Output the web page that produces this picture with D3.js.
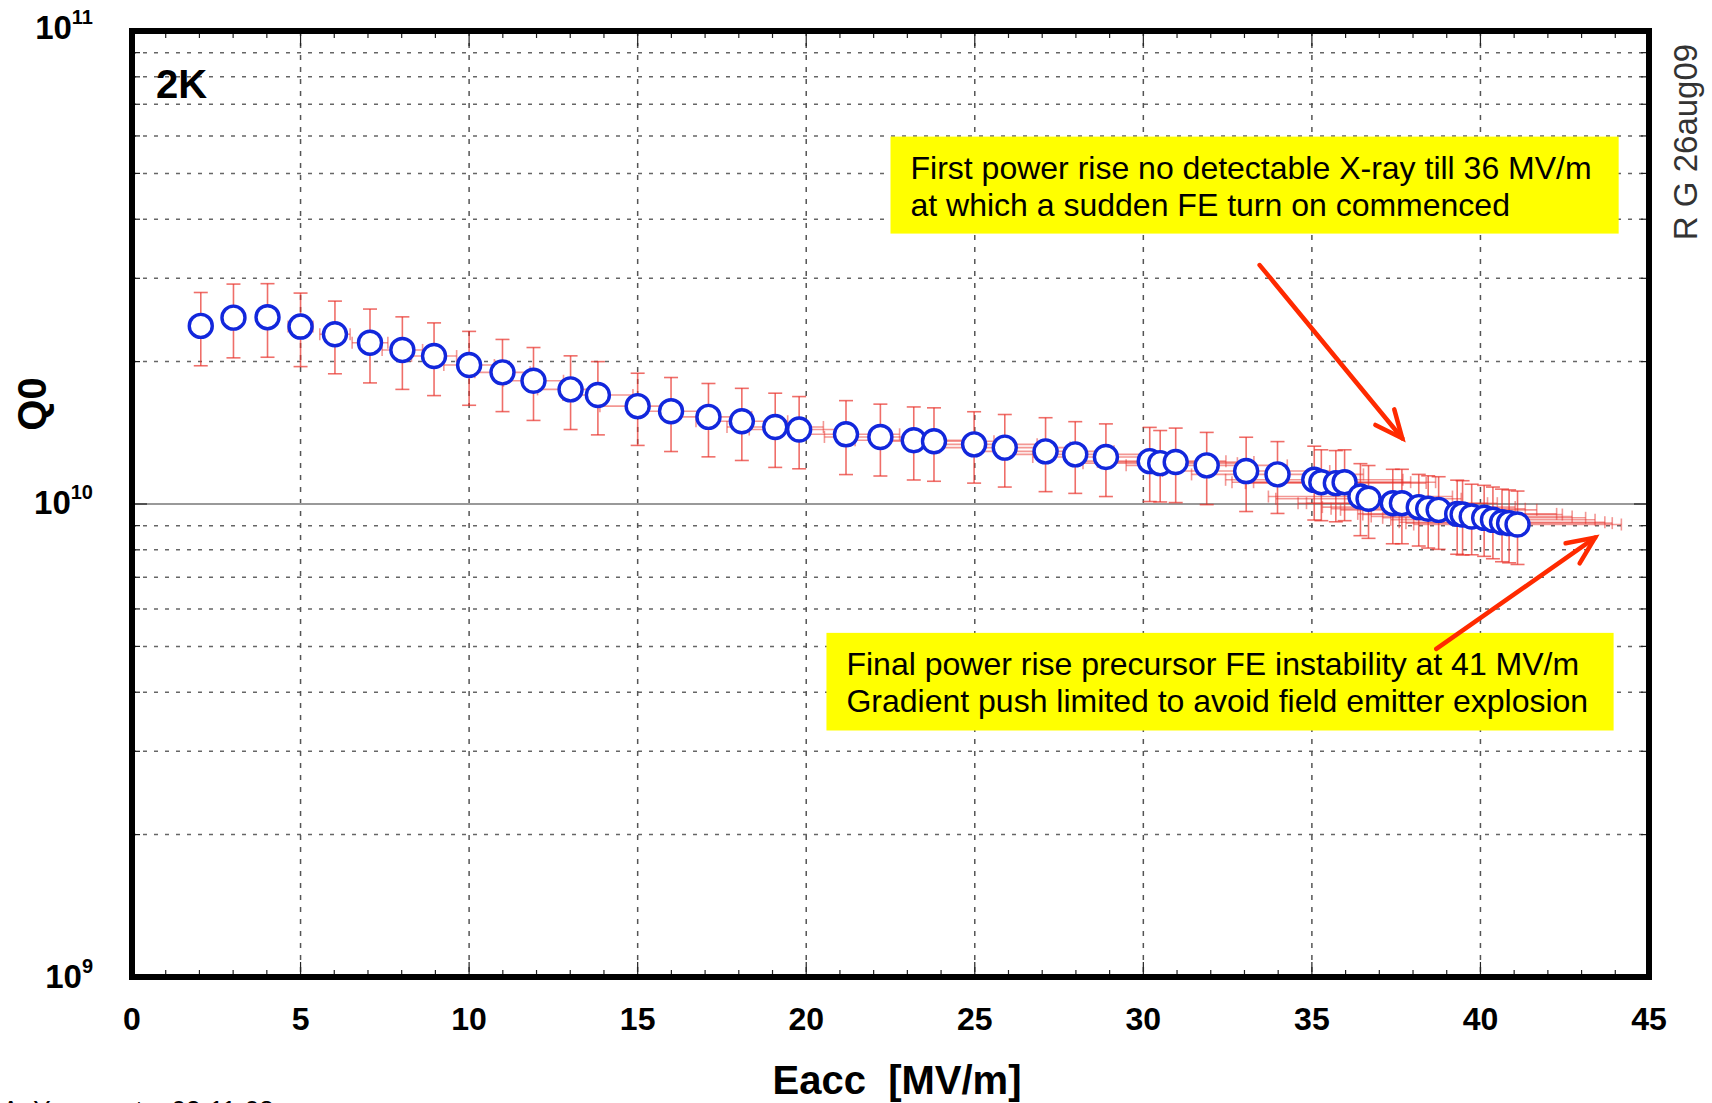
<!DOCTYPE html>
<html>
<head>
<meta charset="utf-8">
<script src="https://cdn.jsdelivr.net/npm/d3@7"></script>
<style>
  body { margin: 0; background: #fff; }
  svg { display: block; font-family: "Liberation Sans", Arial, sans-serif; }
</style>
</head>
<body>
<svg id="chart" width="1712" height="1103"></svg>
<script>
// Eacc [MV/m] and Q0 (x 1e10), with error bars
const eacc = [2.04, 3.01, 4.02, 5.00, 6.02, 7.06, 8.02, 8.96, 10.0, 10.99, 11.91, 13.01, 13.82,
  15.0, 15.99, 17.1, 18.09, 19.08, 19.79, 21.18, 22.2, 23.19, 23.79, 24.98, 25.89, 27.1, 27.98,
  28.89, 30.19, 30.5, 30.96, 31.88, 33.05, 33.98, 35.07, 35.28, 35.71, 35.97, 36.44, 36.68,
  37.4, 37.67, 38.17, 38.45, 38.76, 39.31, 39.47, 39.74, 40.11, 40.37, 40.64, 40.85, 41.1];
const q0 = [2.38, 2.477, 2.483, 2.372, 2.285, 2.193, 2.117, 2.055, 1.967, 1.898, 1.822, 1.747, 1.70,
  1.61, 1.571, 1.528, 1.496, 1.455, 1.437, 1.404, 1.386, 1.364, 1.357, 1.337, 1.316, 1.292, 1.273,
  1.257, 1.232, 1.22, 1.227, 1.207, 1.174, 1.155, 1.125, 1.112, 1.107, 1.112, 1.037, 1.026,
  1.004, 1.004, 0.985, 0.977, 0.972, 0.953, 0.95, 0.941, 0.935, 0.926, 0.915, 0.911, 0.905];
const q0Err = [0.42, 0.44, 0.44, 0.42, 0.40, 0.39, 0.37, 0.36, 0.35, 0.33, 0.32, 0.31, 0.30,
  0.28, 0.28, 0.27, 0.26, 0.26, 0.25, 0.25, 0.24, 0.24, 0.24, 0.23, 0.23, 0.23, 0.22,
  0.22, 0.22, 0.21, 0.22, 0.21, 0.21, 0.20, 0.20, 0.19, 0.19, 0.19, 0.18, 0.18,
  0.18, 0.18, 0.17, 0.17, 0.17, 0.17, 0.17, 0.16, 0.16, 0.16, 0.16, 0.16, 0.16];
const eaccErr = [0.15, 0.23, 0.30, 0.37, 0.45, 0.53, 0.60, 0.67, 0.75, 0.82, 0.89, 0.98, 1.04,
  1.12, 1.20, 1.28, 1.36, 1.43, 1.48, 1.59, 1.66, 1.74, 1.78, 1.87, 1.94, 2.03, 2.10,
  2.17, 2.26, 2.29, 2.32, 2.39, 2.48, 2.55, 2.63, 2.65, 2.68, 2.70, 2.73, 2.75,
  2.81, 2.83, 2.86, 2.88, 2.91, 2.95, 2.96, 2.98, 3.01, 3.03, 3.05, 3.06, 3.08];

const xTicks = [0, 5, 10, 15, 20, 25, 30, 35, 40, 45];
const yDecades = [1e9, 1e10, 1e11];
const yDecadeExp = ['9', '10', '11'];

const note1 = ['First power rise no detectable X-ray till 36 MV/m', 'at which a sudden FE turn on commenced'];
const note2 = ['Final power rise precursor FE instability at 41 MV/m', 'Gradient push limited to avoid field emitter explosion'];
// annotation anchors in data units: [eacc, Q0]
const note1Box = [[22.5, 5.98e10], [44.1, 3.73e10]];
const note2Box = [[20.6, 5.34e9], [43.95, 3.32e9]];
const arrow1 = [[33.45, 3.2e10], [37.68, 1.377e10]];
const arrow2 = [[38.69, 4.94e9], [43.4, 8.49e9]];

const svg = d3.select('#chart');
const L = 132, R = 1649, T = 31, B = 977;

const x = d3.scaleLinear().domain([0, 45]).range([L, R]);
const y = d3.scaleLog().domain([1e9, 1e11]).range([B, T]);

const minors = [];
[1e9, 1e10].forEach(d => { for (let k = 2; k <= 9; k++) minors.push(d * k); });

// grid
const grid = svg.append('g');
grid.selectAll('line.hg').data(minors).join('line')
  .attr('x1', L).attr('x2', R).attr('y1', d => y(d)).attr('y2', d => y(d))
  .attr('stroke', '#666').attr('stroke-width', 1.5).attr('stroke-dasharray', '4,7');
grid.selectAll('line.vg').data(xTicks.slice(1, -1)).join('line')
  .attr('x1', d => x(d)).attr('x2', d => x(d)).attr('y1', T).attr('y2', B)
  .attr('stroke', '#555').attr('stroke-width', 1.5).attr('stroke-dasharray', '5,7');
grid.append('line').attr('x1', L).attr('x2', R).attr('y1', y(1e10)).attr('y2', y(1e10))
  .attr('stroke', '#999').attr('stroke-width', 2);

// error bars
const pts = eacc.map((e, i) => ({ e, q: q0[i] * 1e10, dq: q0Err[i] * 1e10, de: eaccErr[i] }));
const eb = svg.append('g').attr('stroke', '#e8302a').attr('stroke-width', 1.6).attr('fill', 'none');
pts.forEach(p => {
  const g = eb.append('g').attr('stroke-opacity', 0.5);
  g.append('line').attr('x1', x(p.e - p.de)).attr('x2', x(p.e + p.de)).attr('y1', y(p.q)).attr('y2', y(p.q));
  [p.e - p.de, p.e + p.de].forEach(v => g.append('line')
    .attr('x1', x(v)).attr('x2', x(v)).attr('y1', y(p.q) - 6).attr('y2', y(p.q) + 6));
  const v = eb.append('g').attr('stroke-opacity', 0.7);
  v.append('line').attr('x1', x(p.e)).attr('x2', x(p.e)).attr('y1', y(p.q - p.dq)).attr('y2', y(p.q + p.dq));
  [p.q - p.dq, p.q + p.dq].forEach(w => v.append('line')
    .attr('x1', x(p.e) - 7).attr('x2', x(p.e) + 7).attr('y1', y(w)).attr('y2', y(w)));
});

// points
svg.append('g').selectAll('circle').data(pts).join('circle')
  .attr('cx', d => x(d.e)).attr('cy', d => y(d.q)).attr('r', 11.5)
  .attr('fill', '#fff').attr('stroke', '#1227dc').attr('stroke-width', 3.4);

// ticks on all four sides
const tk = svg.append('g').attr('stroke', '#222').attr('stroke-width', 1.2);
d3.range(1, 45).forEach(v => {
  const len = v % 5 === 0 ? 15 : 7;
  tk.append('line').attr('x1', x(v)).attr('x2', x(v)).attr('y1', B).attr('y2', B - len);
  tk.append('line').attr('x1', x(v)).attr('x2', x(v)).attr('y1', T).attr('y2', T + len);
});
minors.concat([1e10]).forEach(d => {
  const len = d === 1e10 ? 15 : 8;
  tk.append('line').attr('x1', L).attr('x2', L + len).attr('y1', y(d)).attr('y2', y(d));
  tk.append('line').attr('x1', R).attr('x2', R - len).attr('y1', y(d)).attr('y2', y(d));
});

// frame
svg.append('rect').attr('x', L).attr('y', T).attr('width', R - L).attr('height', B - T)
  .attr('fill', 'none').attr('stroke', '#000').attr('stroke-width', 6);

// x tick labels
svg.append('g').selectAll('text').data(xTicks).join('text')
  .attr('x', d => x(d)).attr('y', 1030).attr('text-anchor', 'middle')
  .attr('font-size', 32).attr('font-weight', 'bold').text(d => d);

// y tick labels 10^n
yDecades.forEach((d, i) => {
  const t = svg.append('text').attr('x', 93).attr('y', y(d) + 11 + i * -1.5)
    .attr('text-anchor', 'end').attr('font-weight', 'bold');
  t.append('tspan').attr('font-size', 33).text('10');
  t.append('tspan').attr('font-size', 20).attr('dy', -15).text(yDecadeExp[i]);
});

// axis titles
svg.append('text').attr('x', 897).attr('y', 1094).attr('text-anchor', 'middle')
  .attr('font-size', 40).attr('font-weight', 'bold').attr('xml:space', 'preserve').text('Eacc  [MV/m]');
svg.append('text').attr('transform', 'translate(46,404) rotate(-90)').attr('text-anchor', 'middle')
  .attr('font-size', 40).attr('font-weight', 'bold').text('Q0');

svg.append('text').attr('x', 156).attr('y', 98).attr('font-size', 40).attr('font-weight', 'bold').text('2K');
svg.append('text').attr('transform', 'translate(1697,142) rotate(-90)').attr('text-anchor', 'middle')
  .attr('font-size', 33).attr('fill', '#333').text('R G 26aug09');
svg.append('text').attr('x', 2).attr('y', 1119).attr('font-size', 26).text('A. Yamamoto, 02-11-08');

// annotation boxes
function note(box, lines) {
  const x0 = x(box[0][0]), y0 = y(box[0][1]);
  const x1 = x(box[1][0]), y1 = y(box[1][1]);
  svg.append('rect').attr('x', x0).attr('y', y0).attr('width', x1 - x0).attr('height', y1 - y0)
    .attr('fill', '#ffff00');
  lines.forEach((s, i) => svg.append('text').attr('x', x0 + 20).attr('y', y0 + 42 + i * 37)
    .attr('font-size', 32).attr('fill', '#000').text(s));
}
note(note1Box, note1);
note(note2Box, note2);

function arrow(a) {
  const [x0, y0] = [x(a[0][0]), y(a[0][1])];
  const [x1, y1] = [x(a[1][0]), y(a[1][1])];
  const ang = Math.atan2(y1 - y0, x1 - x0);
  const g = svg.append('g').attr('stroke', '#ff2a00').attr('stroke-width', 4.5).attr('stroke-linecap', 'round').attr('fill', 'none');
  g.append('line').attr('x1', x0).attr('y1', y0).attr('x2', x1).attr('y2', y1);
  const h = 30, sp = 0.42;
  g.append('polyline').attr('stroke-linejoin', 'miter').attr('points', [
    [x1 - h * Math.cos(ang - sp), y1 - h * Math.sin(ang - sp)],
    [x1, y1],
    [x1 - h * Math.cos(ang + sp), y1 - h * Math.sin(ang + sp)]
  ].map(p => p.join(',')).join(' '));
}
arrow(arrow1);
arrow(arrow2);
</script>
</body>
</html>
